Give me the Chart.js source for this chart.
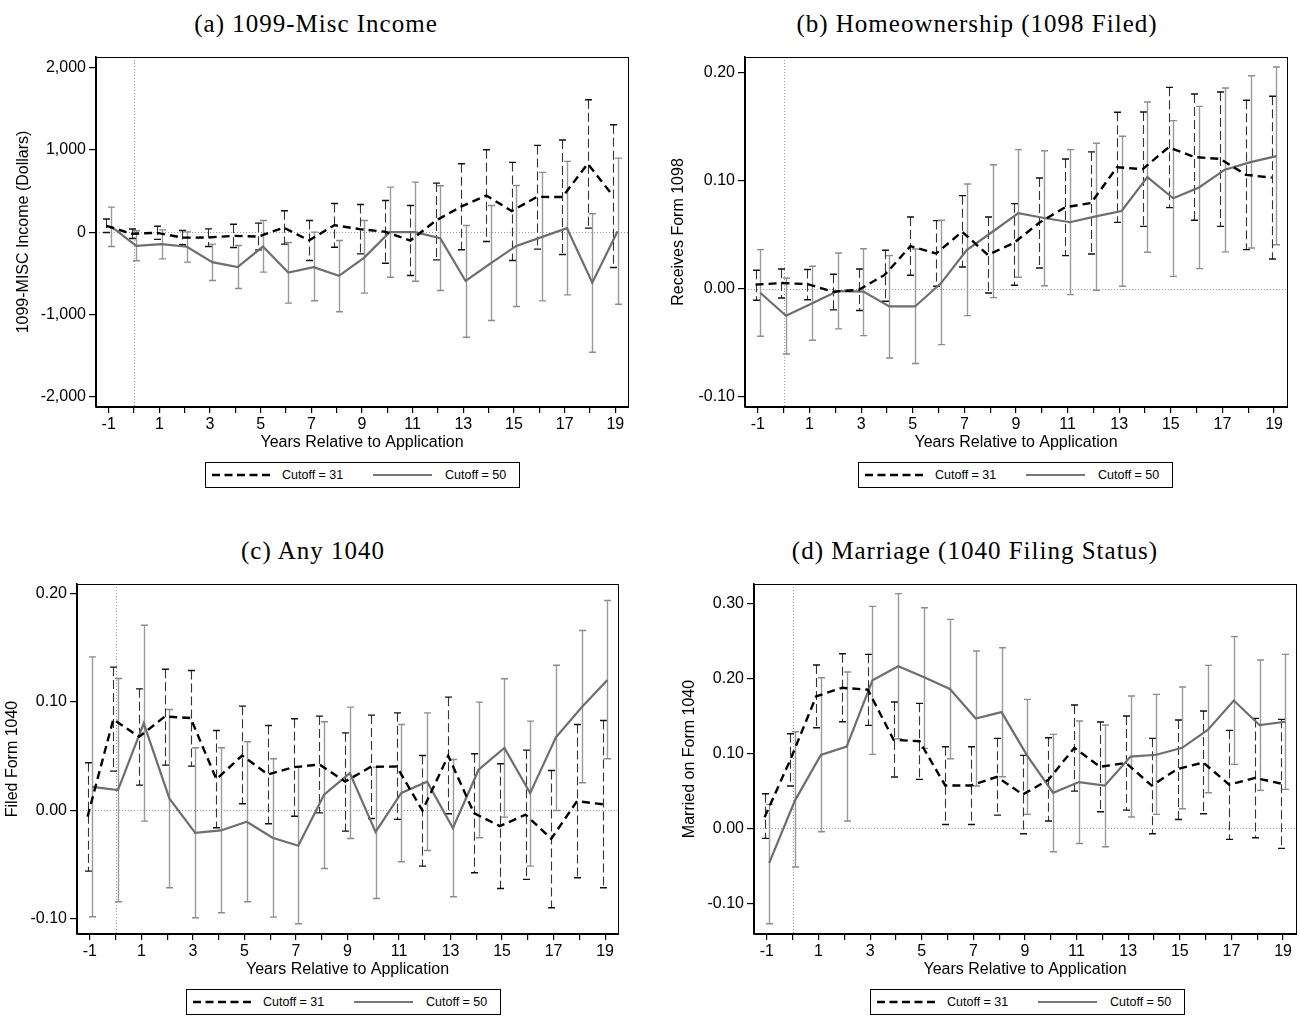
<!DOCTYPE html>
<html>
<head>
<meta charset="utf-8">
<title>Cutoff = 31 vs Cutoff = 50</title>
<script src="https://cdn.jsdelivr.net/npm/chart.js@4.4.0/dist/chart.umd.min.js"></script>
<style>
  body { margin: 0; background: #fff; }
  #pagina { position: relative; width: 1300px; height: 1020px; overflow: hidden; background: #fff; }
  .painel { position: absolute; }
  .titulo {
    position: absolute; transform: translate(-50%, -50%); white-space: nowrap;
    font-family: "Liberation Serif", "Times New Roman", serif; font-size: 25px; letter-spacing: 1px; color: #000;
  }
  .legenda {
    position: absolute; width: 315px; height: 26px; border: 1px solid #000; box-sizing: border-box;
    font-family: "Liberation Sans", Arial, sans-serif; font-size: 12.5px; color: #000;
  }
  .legenda svg, .legenda span { position: absolute; }
  .legenda span { top: 50%; transform: translateY(-50%); white-space: nowrap; }
</style>
</head>
<body>
<div id="pagina">
  <div class="titulo" style="left:316px; top:24px">(a) 1099-Misc Income</div>
  <div class="titulo" style="left:977px; top:24px">(b) Homeownership (1098 Filed)</div>
  <div class="titulo" style="left:313px; top:551px">(c) Any 1040</div>
  <div class="titulo" style="left:975px; top:551px">(d) Marriage (1040 Filing Status)</div>

  <canvas id="gMisc" class="painel" width="650" height="415" style="left:0px; top:40px"></canvas>
  <canvas id="gHome" class="painel" width="640" height="415" style="left:660px; top:40px"></canvas>
  <canvas id="gFile" class="painel" width="650" height="415" style="left:0px; top:567px"></canvas>
  <canvas id="gMarry" class="painel" width="640" height="415" style="left:660px; top:567px"></canvas>
</div>

<script>
// anos relativos ao pedido
const anos = [-1, 0, 1, 2, 3, 4, 5, 6, 7, 8, 9, 10, 11, 12, 13, 14, 15, 16, 17, 18, 19]
const rotulosSerie = ['Cutoff = 31', 'Cutoff = 50']

// (a) 1099-MISC income, dollars
const miscEst31 = [77, -20, -8, -67, -65, -45, -53, 55, -100, 85, 37, 5, -102, 140, 311, 446, 258, 430, 428, 834, 443]
const miscLo31 = [-5, -78, -88, -154, -175, -187, -216, -146, -345, -183, -264, -378, -528, -337, -215, -114, -346, -207, -272, 49, -431]
const miscHi31 = [160, 38, 72, 20, 40, 97, 110, 260, 142, 350, 337, 386, 325, 598, 833, 1004, 850, 1057, 1122, 1614, 1309]
const miscEst50 = [70, -166, -146, -178, -365, -426, -175, -491, -426, -532, -310, 0, 0, -73, -595, -376, -167, -60, 49, -615, 10]
const miscLo50 = [-175, -349, -325, -365, -589, -686, -487, -865, -836, -970, -743, -549, -598, -711, -1280, -1077, -906, -837, -764, -1463, -878]
const miscHi50 = [305, 17, 28, 4, -146, -162, 142, -126, 0, -101, 142, 549, 610, 565, 81, 325, 569, 728, 862, 224, 902]

// (b) receives form 1098
const homeEst31 = [0.004, 0.0055, 0.0045, -0.0025, -0.0008, 0.013, 0.0396, 0.0328, 0.053, 0.0316, 0.0425, 0.0615, 0.0757, 0.0796, 0.1127, 0.111, 0.1312, 0.1222, 0.1204, 0.1057, 0.1031]
const homeLo31 = [-0.0105, -0.0083, -0.010, -0.0194, -0.020, -0.0114, 0.0127, 0.0025, 0.0204, -0.0037, 0.0034, 0.0194, 0.0309, 0.0324, 0.0617, 0.058, 0.0753, 0.0636, 0.058, 0.0364, 0.0278]
const homeHi31 = [0.0173, 0.0185, 0.018, 0.0136, 0.0185, 0.0358, 0.0667, 0.0633, 0.0864, 0.0667, 0.079, 0.1028, 0.1204, 0.1269, 0.1636, 0.1639, 0.1867, 0.1806, 0.1824, 0.1747, 0.1784]
const homeEst50 = [-0.0035, -0.0248, -0.0134, -0.002, -0.0025, -0.0162, -0.0162, 0.0052, 0.036, 0.053, 0.0702, 0.0657, 0.0618, 0.0672, 0.0722, 0.1036, 0.084, 0.094, 0.1105, 0.1175, 0.123]
const homeLo50 = [-0.0438, -0.0602, -0.0475, -0.037, -0.0432, -0.0639, -0.069, -0.0515, -0.0247, -0.008, 0.0108, 0.003, -0.0052, -0.0012, 0.0025, 0.034, 0.0117, 0.0188, 0.0343, 0.038, 0.041]
const homeHi50 = [0.0364, 0.0102, 0.021, 0.0333, 0.0373, 0.0309, 0.037, 0.0636, 0.0972, 0.115, 0.129, 0.128, 0.129, 0.135, 0.1414, 0.1731, 0.1559, 0.1691, 0.1861, 0.1975, 0.2056]

// (c) filed form 1040
const fileEst31 = [-0.006, 0.084, 0.0678, 0.0866, 0.0852, 0.0286, 0.0505, 0.033, 0.0397, 0.0422, 0.0265, 0.0401, 0.0403, -0.0004, 0.0503, -0.0028, -0.0148, -0.0042, -0.0265, 0.0083, 0.0054]
const fileLo31 = [-0.0564, 0.0361, 0.0231, 0.0416, 0.0407, -0.0163, 0.0059, -0.0126, -0.0056, -0.0025, -0.0194, -0.0077, -0.0086, -0.0518, -0.0034, -0.058, -0.0725, -0.0641, -0.0903, -0.0626, -0.0718]
const fileHi31 = [0.0438, 0.1323, 0.1122, 0.1304, 0.1292, 0.0737, 0.0962, 0.0783, 0.0845, 0.087, 0.0715, 0.0879, 0.09, 0.0506, 0.1045, 0.0521, 0.0429, 0.0555, 0.0367, 0.0792, 0.0829]
const fileEst50 = [0.0215, 0.0185, 0.0803, 0.0106, -0.021, -0.0188, -0.0108, -0.0256, -0.033, 0.0142, 0.0342, -0.0202, 0.0159, 0.0263, -0.0165, 0.0374, 0.0576, 0.0157, 0.0673, 0.0952, 0.1203]
const fileLo50 = [-0.0987, -0.0848, -0.0102, -0.0718, -0.0996, -0.095, -0.0848, -0.099, -0.1051, -0.054, -0.0262, -0.0817, -0.0478, -0.0373, -0.0802, -0.0256, -0.0065, -0.0518, -0.0003, 0.0253, 0.0475]
const fileHi50 = [0.1418, 0.1218, 0.1711, 0.0931, 0.0577, 0.0577, 0.0632, 0.0475, 0.0398, 0.0817, 0.0953, 0.0398, 0.0792, 0.09, 0.0469, 0.0999, 0.1215, 0.0823, 0.1341, 0.1662, 0.194]

// (d) married on form 1040
const marryEst31 = [0.015, 0.092, 0.1766, 0.188, 0.1855, 0.1185, 0.1165, 0.0574, 0.0574, 0.069, 0.0453, 0.065, 0.1077, 0.0823, 0.0876, 0.0572, 0.0795, 0.088, 0.0585, 0.0675, 0.06]
const marryLo31 = [-0.0134, 0.0566, 0.1346, 0.1427, 0.1378, 0.0687, 0.0655, 0.0053, 0.0053, 0.0178, -0.0071, 0.0098, 0.0499, 0.0223, 0.0245, -0.0071, 0.012, 0.0196, -0.0147, -0.0125, -0.0267]
const marryHi31 = [0.0464, 0.1266, 0.2185, 0.2336, 0.2327, 0.169, 0.1672, 0.1092, 0.1092, 0.1204, 0.0976, 0.1213, 0.165, 0.1422, 0.1502, 0.1204, 0.1449, 0.1569, 0.1311, 0.1471, 0.1458]
const marryEst50 = [-0.046, 0.0375, 0.0983, 0.1093, 0.198, 0.2168, 0.202, 0.1864, 0.147, 0.1555, 0.097, 0.0475, 0.0619, 0.0572, 0.096, 0.0985, 0.1078, 0.132, 0.171, 0.138, 0.1426]
const marryLo50 = [-0.1275, -0.0517, -0.0045, 0.0098, 0.099, 0.1199, 0.107, 0.0932, 0.0566, 0.0691, 0.0187, -0.0312, -0.0201, -0.0245, 0.0152, 0.0187, 0.0263, 0.0477, 0.0856, 0.0508, 0.0522]
const marryHi50 = [0.0321, 0.1293, 0.2015, 0.2091, 0.2969, 0.3139, 0.2951, 0.2795, 0.2372, 0.2416, 0.1725, 0.1257, 0.1436, 0.1382, 0.177, 0.1792, 0.189, 0.218, 0.2564, 0.2251, 0.2327]

// marcas dos eixos y
const ticksMisc = [-2000, -1000, 0, 1000, 2000]
const ticksHome = [-0.10, 0.00, 0.10, 0.20]
const ticksFile = [-0.10, 0.00, 0.10, 0.20]
const ticksMarry = [-0.10, 0.00, 0.10, 0.20, 0.30]

// as duas séries ficam levemente deslocadas em torno de cada ano
const deslocamento = 0.09

const estilo31 = {
    borderColor: '#000', borderWidth: 2.4, borderDash: [8, 5],
    ciColor: '#333', ciDash: [9, 4], ciWidth: 1.1, capColor: '#111'
}
const estilo50 = {
    borderColor: '#6e6e6e', borderWidth: 2.2, borderDash: [],
    ciColor: '#9a9a9a', ciDash: [], ciWidth: 1.4, capColor: '#8c8c8c'
}

const fonteEixo = { family: '"Liberation Sans", Arial, sans-serif', size: 16 }

// linhas pontilhadas em zero, intervalos de confiança e moldura
const extras = {
    id: 'extras',
    beforeDatasetsDraw(chart) {
        const ctx = chart.ctx
        const area = chart.chartArea
        const sx = chart.scales.x
        const sy = chart.scales.y

        ctx.save()
        ctx.strokeStyle = '#9c9c9c'
        ctx.lineWidth = 1
        ctx.setLineDash([1, 2])
        const x0 = Math.round(sx.getPixelForValue(0)) + 0.5
        const y0 = Math.round(sy.getPixelForValue(0)) + 0.5
        ctx.beginPath()
        ctx.moveTo(x0, area.top)
        ctx.lineTo(x0, area.bottom)
        ctx.moveTo(area.left, y0)
        ctx.lineTo(area.right, y0)
        ctx.stroke()

        chart.data.datasets.forEach(function (ds) {
            ds.data.forEach(function (p, i) {
                const px = Math.round(sx.getPixelForValue(p.x)) + 0.5
                const topo = sy.getPixelForValue(ds.ciHi[i])
                const base = sy.getPixelForValue(ds.ciLo[i])

                ctx.setLineDash(ds.ciDash)
                ctx.strokeStyle = ds.ciColor
                ctx.lineWidth = ds.ciWidth
                ctx.beginPath()
                ctx.moveTo(px, topo)
                ctx.lineTo(px, base)
                ctx.stroke()

                ctx.setLineDash([])
                ctx.strokeStyle = ds.capColor
                ctx.lineWidth = 1.4
                ctx.beginPath()
                ctx.moveTo(px - 3.5, topo)
                ctx.lineTo(px + 3.5, topo)
                ctx.moveTo(px - 3.5, base)
                ctx.lineTo(px + 3.5, base)
                ctx.stroke()
            })
        })
        ctx.restore()
    },
    afterDraw(chart) {
        const ctx = chart.ctx
        const a = chart.chartArea
        ctx.save()
        ctx.strokeStyle = '#000'
        ctx.lineWidth = 1
        ctx.strokeRect(Math.round(a.left) + 0.5, Math.round(a.top) + 0.5, Math.round(a.right - a.left), Math.round(a.bottom - a.top))
        ctx.restore()
    }
}

function serie(est, lo, hi, desloc, estilo, rotulo) {
    return Object.assign({
        label: rotulo,
        data: anos.map(function (ano, i) { return { x: ano + desloc, y: est[i] } }),
        ciLo: lo,
        ciHi: hi,
        pointRadius: 0,
        tension: 0,
        fill: false
    }, estilo)
}

function montarPainel(id, cfg) {
    const canvas = document.getElementById(id)
    return new Chart(canvas, {
        type: 'line',
        data: {
            datasets: [
                serie(cfg.est31, cfg.lo31, cfg.hi31, -deslocamento, estilo31, rotulosSerie[0]),
                serie(cfg.est50, cfg.lo50, cfg.hi50, deslocamento, estilo50, rotulosSerie[1])
            ]
        },
        options: {
            responsive: false,
            animation: false,
            devicePixelRatio: 1,
            layout: { padding: { left: 0, top: 17, right: cfg.padDir, bottom: 0 } },
            plugins: { legend: { display: false }, tooltip: { enabled: false } },
            scales: {
                x: {
                    type: 'linear',
                    min: -1.5,
                    max: 19.5,
                    afterBuildTicks: function (s) { s.ticks = anos.map(function (v) { return { value: v } }) },
                    afterFit: function (s) { s.height = 48 },
                    grid: { drawOnChartArea: false, drawTicks: true, tickLength: 6, color: '#000', lineWidth: 1.2 },
                    border: { display: true, color: '#000', width: 1.6 },
                    ticks: {
                        autoSkip: false, maxRotation: 0, padding: 2, color: '#000', font: fonteEixo,
                        callback: function (v) { return Math.abs(v % 2) === 1 ? String(v) : '' }
                    },
                    title: {
                        display: true, text: 'Years Relative to Application', color: '#000',
                        font: fonteEixo, padding: { top: 0, bottom: 3 }
                    }
                },
                y: {
                    min: cfg.yMin,
                    max: cfg.yMax,
                    afterBuildTicks: function (s) { s.ticks = cfg.ticks.map(function (v) { return { value: v } }) },
                    afterFit: function (s) { s.width = cfg.largY },
                    grid: { drawOnChartArea: false, drawTicks: true, tickLength: 7, color: '#000', lineWidth: 1.2 },
                    border: { display: true, color: '#000', width: 1.6 },
                    ticks: { padding: 3, color: '#000', font: fonteEixo, callback: cfg.formato },
                    title: {
                        display: true, text: cfg.tituloY, color: '#000',
                        font: fonteEixo, padding: { top: cfg.padTitulo, bottom: 0 }
                    }
                }
            }
        },
        plugins: [extras]
    })
}

function duasCasas(v) { return v.toFixed(2) }
function milhar(v) { return v.toLocaleString('en-US') }

montarPainel('gMisc', {
    est31: miscEst31, lo31: miscLo31, hi31: miscHi31,
    est50: miscEst50, lo50: miscLo50, hi50: miscHi50,
    yMin: -2130, yMax: 2134, ticks: ticksMisc, formato: milhar,
    tituloY: '1099-MISC Income (Dollars)', largY: 96, padDir: 22, padTitulo: 14
})
montarPainel('gHome', {
    est31: homeEst31, lo31: homeLo31, hi31: homeHi31,
    est50: homeEst50, lo50: homeLo50, hi50: homeHi50,
    yMin: -0.1093, yMax: 0.2148, ticks: ticksHome, formato: duasCasas,
    tituloY: 'Receives Form 1098', largY: 85, padDir: 13, padTitulo: 9
})
montarPainel('gFile', {
    est31: fileEst31, lo31: fileLo31, hi31: fileHi31,
    est50: fileEst50, lo50: fileLo50, hi50: fileHi50,
    yMin: -0.1146, yMax: 0.2092, ticks: ticksFile, formato: duasCasas,
    tituloY: 'Filed Form 1040', largY: 77, padDir: 32, padTitulo: 3
})
montarPainel('gMarry', {
    est31: marryEst31, lo31: marryLo31, hi31: marryHi31,
    est50: marryEst50, lo50: marryLo50, hi50: marryHi50,
    yMin: -0.1412, yMax: 0.3268, ticks: ticksMarry, formato: duasCasas,
    tituloY: 'Married on Form 1040', largY: 94, padDir: 4, padTitulo: 20
})

// legendas em caixa sob cada painel
function legenda(left, top) {
    const caixa = document.createElement('div')
    caixa.className = 'legenda'
    caixa.style.left = left + 'px'
    caixa.style.top = top + 'px'
    caixa.innerHTML =
        '<svg width="60" height="24" style="left:6px; top:0px"><line x1="0" y1="12" x2="59" y2="12" stroke="#000" stroke-width="2.4" stroke-dasharray="8 4.5"/></svg>' +
        '<span style="left:76px">' + rotulosSerie[0] + '</span>' +
        '<svg width="60" height="24" style="left:167px; top:0px"><line x1="0" y1="12" x2="59" y2="12" stroke="#777" stroke-width="2"/></svg>' +
        '<span style="left:239px">' + rotulosSerie[1] + '</span>'
    document.getElementById('pagina').appendChild(caixa)
}

legenda(205, 462)
legenda(858, 462)
legenda(186, 989)
legenda(870, 989)
</script>
</body>
</html>
